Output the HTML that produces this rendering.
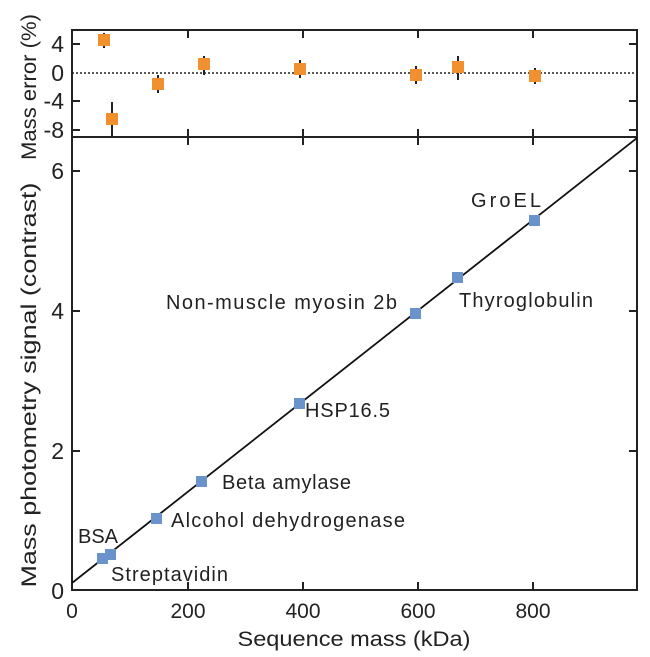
<!DOCTYPE html>
<html><head><style>body{margin:0;background:#fff}svg{display:block}text{font-family:"Liberation Sans",sans-serif;fill:#222}</style></head><body>
<svg width="650" height="657" viewBox="0 0 650 657">
<g stroke="#222" stroke-width="2" fill="none">
<rect x="72" y="30" width="565" height="560"/>
<line x1="72" y1="137" x2="637" y2="137"/>
</g>
<line x1="72" y1="73" x2="637" y2="73" stroke="#222" stroke-width="1.5" stroke-dasharray="2,2"/>
<g stroke="#222" stroke-width="2">
<line x1="188" y1="590" x2="188" y2="582"/><line x1="303" y1="590" x2="303" y2="582"/><line x1="418" y1="590" x2="418" y2="582"/><line x1="533" y1="590" x2="533" y2="582"/>
<line x1="188" y1="137" x2="188" y2="129"/><line x1="303" y1="137" x2="303" y2="129"/><line x1="418" y1="137" x2="418" y2="129"/><line x1="533" y1="137" x2="533" y2="129"/>
<line x1="188" y1="137" x2="188" y2="145"/><line x1="303" y1="137" x2="303" y2="145"/><line x1="418" y1="137" x2="418" y2="145"/><line x1="533" y1="137" x2="533" y2="145"/>
<line x1="188" y1="30" x2="188" y2="38"/><line x1="303" y1="30" x2="303" y2="38"/><line x1="418" y1="30" x2="418" y2="38"/><line x1="533" y1="30" x2="533" y2="38"/>
<line x1="72" y1="451" x2="80" y2="451"/><line x1="72" y1="311" x2="80" y2="311"/><line x1="72" y1="171" x2="80" y2="171"/>
<line x1="637" y1="451" x2="629" y2="451"/><line x1="637" y1="311" x2="629" y2="311"/><line x1="637" y1="171" x2="629" y2="171"/>
<line x1="72" y1="44" x2="80" y2="44"/><line x1="72" y1="101" x2="80" y2="101"/><line x1="72" y1="130" x2="80" y2="130"/>
<line x1="637" y1="44" x2="629" y2="44"/><line x1="637" y1="101" x2="629" y2="101"/><line x1="637" y1="130" x2="629" y2="130"/>
</g>
<line x1="72" y1="583" x2="637" y2="138" stroke="#111" stroke-width="1.8"/>
<g stroke="#222" stroke-width="2">
<line x1="104" y1="33" x2="104" y2="48"/><line x1="112" y1="102" x2="112" y2="137"/><line x1="158" y1="75" x2="158" y2="93"/><line x1="204" y1="56" x2="204" y2="75"/><line x1="300" y1="60" x2="300" y2="78"/><line x1="416" y1="66" x2="416" y2="84"/><line x1="458" y1="56" x2="458" y2="80"/><line x1="535" y1="68" x2="535" y2="84"/>
</g>
<g fill="#f0902e">
<rect x="98" y="34" width="12" height="12"/><rect x="106" y="113" width="12" height="12"/><rect x="152" y="78" width="12" height="12"/><rect x="198" y="58" width="12" height="12"/><rect x="294" y="63" width="12" height="12"/><rect x="410" y="69" width="12" height="12"/><rect x="452" y="61" width="12" height="12"/><rect x="529" y="70" width="12" height="12"/>
</g>
<g fill="#6a93cc">
<rect x="97" y="553" width="11" height="11"/><rect x="105" y="549" width="11" height="11"/><rect x="151" y="513" width="11" height="11"/><rect x="196" y="476" width="11" height="11"/><rect x="294" y="398" width="11" height="11"/><rect x="410" y="308" width="11" height="11"/><rect x="452" y="272" width="11" height="11"/><rect x="529" y="215" width="11" height="11"/>
</g>
<g font-size="20">
<text x="78" y="543" textLength="40">BSA</text>
<text x="111" y="581" textLength="117">Streptavidin</text>
<text x="171" y="527" textLength="234">Alcohol dehydrogenase</text>
<text x="222" y="489" textLength="129">Beta amylase</text>
<text x="305" y="417" textLength="85">HSP16.5</text>
<text x="166" y="309" textLength="231">Non-muscle myosin 2b</text>
<text x="459" y="307" textLength="134">Thyroglobulin</text>
<text x="471" y="207" textLength="70">GroEL</text>
</g>
<g font-size="23" text-anchor="end">
<text x="64" y="599">0</text><text x="64" y="459">2</text><text x="64" y="319">4</text><text x="64" y="179">6</text>
<text x="64" y="52">4</text><text x="64" y="81">0</text><text x="64" y="109">-4</text><text x="64" y="138">-8</text>
</g>
<g font-size="21" text-anchor="middle">
<text x="72" y="618">0</text><text x="188" y="618">200</text><text x="303" y="618">400</text><text x="418" y="618">600</text><text x="533" y="618">800</text>
<text x="354" y="646" textLength="233" lengthAdjust="spacingAndGlyphs">Sequence mass (kDa)</text>
<text transform="translate(36,385) rotate(-90)" textLength="405" lengthAdjust="spacingAndGlyphs">Mass photometry signal  (contrast)</text>
<text transform="translate(36,87) rotate(-90)" textLength="146" lengthAdjust="spacingAndGlyphs">Mass error (%)</text>
</g>
</svg>
</body></html>
